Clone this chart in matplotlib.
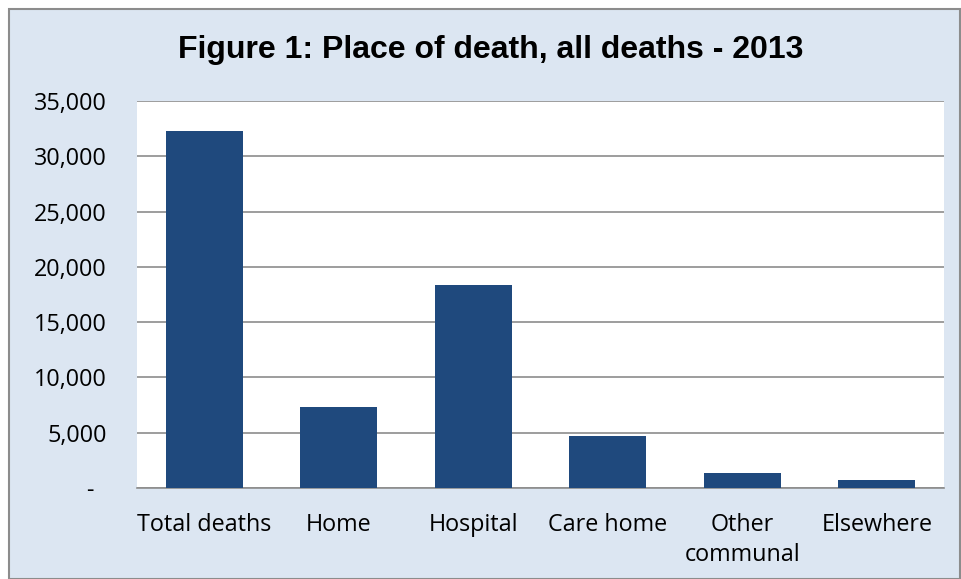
import matplotlib.pyplot as plt
from matplotlib.patches import Rectangle

places = ['Total deaths', 'Home', 'Hospital', 'Care home', 'Other\ncommunal', 'Elsewhere']
deaths = [32250, 7330, 18350, 4700, 1380, 720]
yticks = [0, 5000, 10000, 15000, 20000, 25000, 30000, 35000]
ytick_labels = ['-  ', '5,000', '10,000', '15,000', '20,000', '25,000', '30,000', '35,000']

W, H = 961, 579
fig = plt.figure(figsize=(W / 100, H / 100), dpi=100)
fig.patch.set_facecolor('white')

# light blue chart area with grey border
fig.patches.append(Rectangle((9 / W, 0), (W - 10) / W, (H - 9) / H, transform=fig.transFigure,
                             facecolor='#DCE6F2', edgecolor='#8C8C8C', linewidth=1.5, zorder=-1))

ax = fig.add_axes([137 / W, (H - 488) / H, (944 - 137) / W, (488 - 101) / H])
ax.set_zorder(2)
ax.set_facecolor('white')
ax.bar(range(len(places)), deaths, width=0.57, color='#1F497D', zorder=3)
ax.set_xlim(-0.5, len(places) - 0.5)
ax.set_ylim(0, 35000)
ax.set_yticks(yticks)
ax.set_yticklabels(ytick_labels)
ax.set_xticks(range(len(places)))
ax.set_xticklabels(places, linespacing=1.35)
ax.yaxis.grid(True, color='#8C8C8C', linewidth=1.2, zorder=0)
ax.set_axisbelow(True)
for s in ['top', 'right', 'left']:
    ax.spines[s].set_visible(False)
ax.spines['bottom'].set_color('#8C8C8C')
ax.spines['bottom'].set_linewidth(1.2)
ax.tick_params(length=0, labelsize=16.8)
for lbl in ax.get_xticklabels() + ax.get_yticklabels():
    lbl.set_family('Open Sans')
ax.tick_params(axis='y', pad=22)
ax.tick_params(axis='x', pad=18)

fig.text(491 / W, 1 - 50 / H, 'Figure 1: Place of death, all deaths - 2013', ha='center', va='center',
         fontsize=23, fontweight='bold', family='Liberation Sans', zorder=3)

fig.savefig('out.png', dpi=100)
